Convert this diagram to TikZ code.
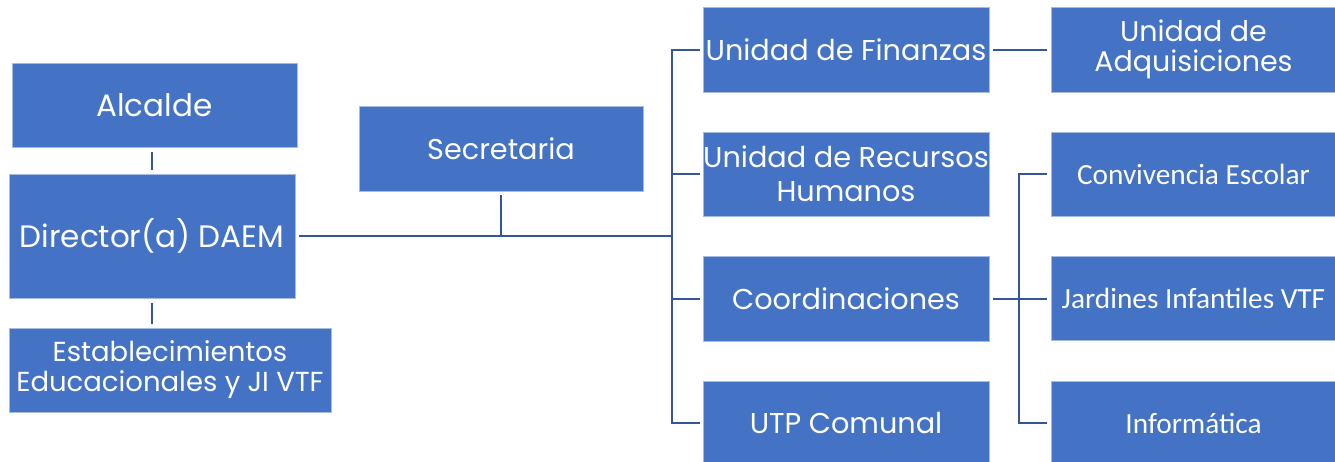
\documentclass[tikz,border=0pt]{standalone}
\usepackage{fontspec}
\setmainfont{Poppins}
\newfontfamily\calfont{Carlito}
\definecolor{boxblue}{RGB}{68,114,196}
\definecolor{boxedge}{RGB}{165,188,228}
\definecolor{linkblue}{RGB}{52,86,150}
\begin{document}
\begin{tikzpicture}[x=1pt,y=-1pt,
  orgbox/.style={fill=boxblue, draw=boxedge, line width=0.8pt, text=white, align=center, inner sep=0pt, font=\fontsize{28.7}{34}\selectfont},
  bigbox/.style={orgbox, font=\fontsize{31}{36}\selectfont},
  smallbox/.style={orgbox, font=\fontsize{27.5}{30}\selectfont},
  calbox/.style={orgbox, font=\calfont\fontsize{29.3}{34}\selectfont},
  link/.style={draw=linkblue, line width=2.6pt},
  bracket/.style={draw=linkblue, line width=2pt},
]
\useasboundingbox (0,0) rectangle (1335,461);
\fill[white] (0,0) rectangle (1335,461);
\node[bigbox, minimum width=285pt, minimum height=84pt] (alc) at (154.5,105) {Alcalde};
\node[bigbox, minimum width=286pt, minimum height=124pt] (dir) at (152,236) {Director(a) DAEM};
\node[smallbox, minimum width=322pt, minimum height=84pt] (est) at (170,370) {Establecimientos\\Educacionales y JI VTF};
\node[orgbox, minimum width=284pt, minimum height=85pt] (sec) at (501,148.5) {Secretaria};
\node[orgbox, minimum width=286pt, minimum height=85pt] (fin) at (846,49.5) {Unidad de Finanzas};
\node[orgbox, minimum width=286pt, minimum height=84pt] (rrhh) at (846,174) {Unidad de Recursos\\Humanos};
\node[orgbox, minimum width=286pt, minimum height=85pt] (coord) at (846,298.5) {Coordinaciones};
\node[orgbox, minimum width=286pt, minimum height=84pt] (utp) at (846,423) {UTP Comunal};
\node[smallbox, font=\fontsize{28.5}{30}\selectfont, minimum width=285pt, minimum height=85pt] (adq) at (1193.5,49.5) {Unidad de\\Adquisiciones};
\node[calbox, minimum width=285pt, minimum height=84pt] (conv) at (1193.5,174) {Convivencia Escolar};
\node[calbox, minimum width=285pt, minimum height=84pt] (jard) at (1193.5,298.5) {Jardines Infantiles VTF};
\node[calbox, minimum width=285pt, minimum height=84pt] (inf) at (1193.5,423) {Informática};
\coordinate (b1) at (672,237);
\coordinate (b2) at (1019,298.5);
% left column
\draw[link, shorten <=5pt, shorten >=4pt] (dir.north |- alc.south) -- (dir.north);
\draw[link, shorten <=5pt, shorten >=4pt] (dir.south) -- (dir.south |- est.north);
% main line
\draw[link, shorten <=4pt] (dir.east) -- (dir.east -| b1);
\draw[bracket, shorten <=4pt] (sec.south) -- (sec.south |- dir.east);
% first bracket
\draw[bracket, shorten <=3pt, shorten >=3pt] (fin.west) -- (fin.west -| b1) -- (utp.west -| b1) -- (utp.west);
\draw[bracket, shorten >=3pt] (rrhh.west -| b1) -- (rrhh.west);
\draw[bracket, shorten >=3pt] (coord.west -| b1) -- (coord.west);
% right side
\draw[bracket, shorten <=4pt, shorten >=4pt] (fin.east) -- (adq.west);
\draw[bracket, shorten <=4pt, shorten >=4pt] (coord.east) -- (jard.west);
\draw[bracket, shorten <=4pt, shorten >=4pt] (conv.west) -- (conv.west -| b2) -- (inf.west -| b2) -- (inf.west);
\end{tikzpicture}
\end{document}
